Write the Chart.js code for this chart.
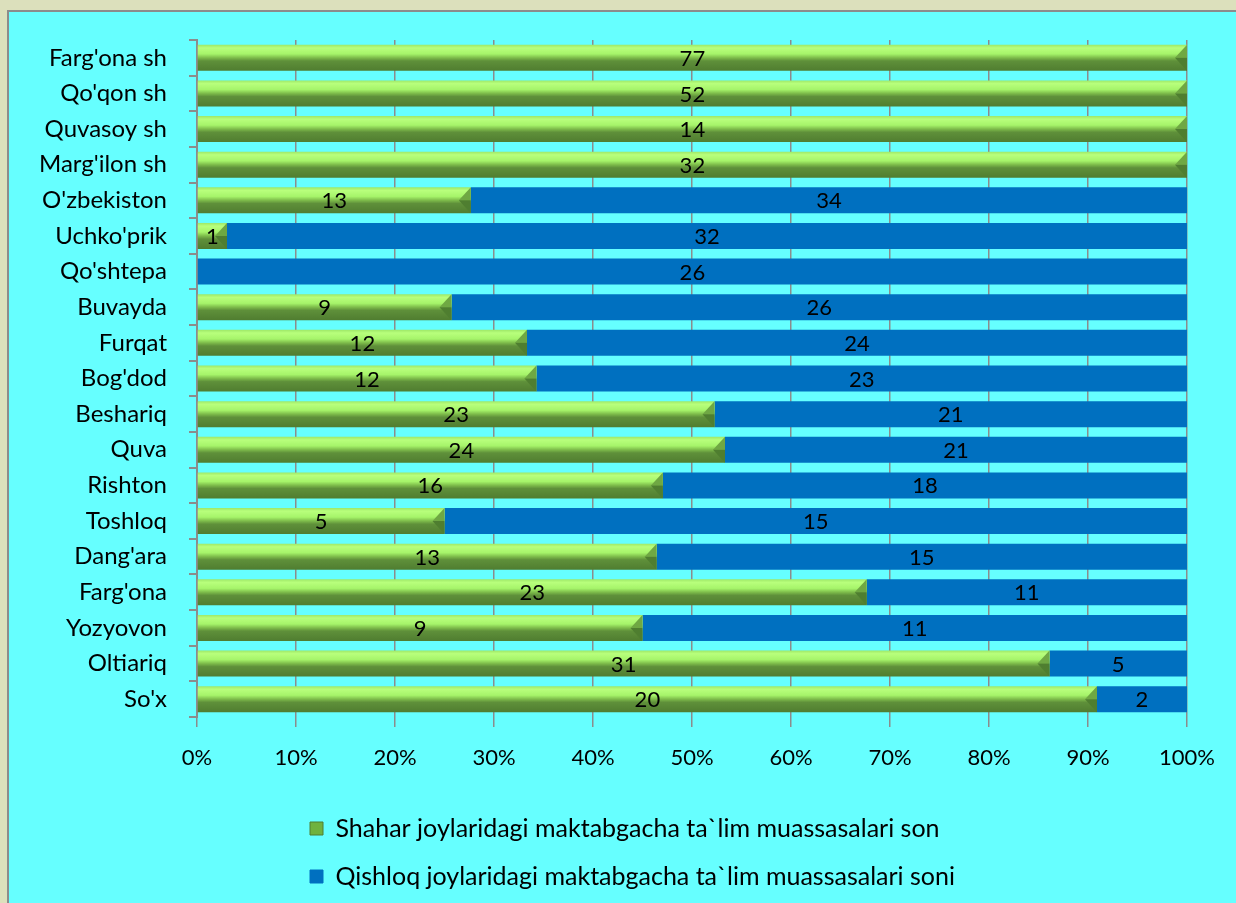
<!DOCTYPE html>
<html>
<head>
<meta charset="utf-8">
<script src="https://cdn.jsdelivr.net/npm/chart.js@4.4.1/dist/chart.umd.min.js"></script>
<style>
  html, body { margin: 0; padding: 0; background: #DCE0BC; overflow: hidden; width: 1236px; height: 903px; }
  #frame { position: absolute; left: 7px; top: 10px; width: 1240px; height: 910px; border: 2px solid #8C8C8C; background: #66FFFF; }
  canvas { display: block; }
</style>
</head>
<body>
<div id="frame"><canvas id="c" width="1227" height="900"></canvas></div>
<script>
const categories = ["Farg'ona sh","Qo'qon sh","Quvasoy sh","Marg'ilon sh","O'zbekiston","Uchko'prik","Qo'shtepa","Buvayda","Furqat","Bog'dod","Beshariq","Quva","Rishton","Toshloq","Dang'ara","Farg'ona","Yozyovon","Oltiariq","So'x"];
const shaharCounts = [77,52,14,32,13,1,0,9,12,12,23,24,16,5,13,23,9,31,20];
const qishloqCounts = [0,0,0,0,34,32,26,26,24,23,21,21,18,15,15,11,11,5,2];
const seriesNames = ["Shahar joylaridagi maktabgacha ta`lim muassasalari son","Qishloq joylaridagi maktabgacha ta`lim muassasalari soni"];
const xTickValues = [0,10,20,30,40,50,60,70,80,90,100];

const totals = categories.map((_, i) => shaharCounts[i] + qishloqCounts[i]);
const shaharPct = shaharCounts.map((v, i) => v / totals[i] * 100);
const qishloqPct = qishloqCounts.map((v, i) => v / totals[i] * 100);
const countsBySeries = [shaharCounts, qishloqCounts];

const FONT = "Lato, 'Open Sans', sans-serif";
const BAR_PCT = 0.73;

function greenFill(ctx) {
  const chart = ctx.chart;
  if (!chart.chartArea || ctx.type !== 'data') return '#8CD450';
  const y = chart.scales.y;
  const center = y.getPixelForValue(ctx.dataIndex);
  const h = (y.height / categories.length) * BAR_PCT;
  const g = chart.ctx.createLinearGradient(0, center - h / 2, 0, center + h / 2);
  g.addColorStop(0, '#9EE868');
  g.addColorStop(0.12, '#B8FF7C');
  g.addColorStop(0.35, '#A6F46A');
  g.addColorStop(0.5, '#7DBB4A');
  g.addColorStop(0.62, '#5F903A');
  g.addColorStop(1, '#507D30');
  return g;
}

const bevelPlugin = {
  id: 'bevel',
  afterDatasetDraw(chart, args) {
    if (args.index !== 0) return;
    const c = chart.ctx;
    args.meta.data.forEach((el, i) => {
      if (!shaharCounts[i]) return;
      const p = el.getProps(['x', 'y', 'base', 'height'], true);
      const top = p.y - p.height / 2, bot = p.y + p.height / 2;
      const w = Math.min(12, (p.x - p.base) / 2);
      c.save();
      c.fillStyle = '#6FA843';
      c.beginPath(); c.moveTo(p.x, top); c.lineTo(p.x - w, p.y); c.lineTo(p.x, p.y); c.closePath(); c.fill();
      c.fillStyle = '#4F7E30';
      c.beginPath(); c.moveTo(p.x, bot); c.lineTo(p.x - w, p.y); c.lineTo(p.x, p.y); c.closePath(); c.fill();
      c.restore();
    });
  }
};

const labelPlugin = {
  id: 'valueLabels',
  afterDatasetsDraw(chart) {
    const c = chart.ctx;
    c.save();
    c.font = '22px ' + FONT;
    c.fillStyle = '#000';
    c.textAlign = 'center';
    c.textBaseline = 'middle';
    chart.data.datasets.forEach((ds, di) => {
      const meta = chart.getDatasetMeta(di);
      meta.data.forEach((el, i) => {
        const v = countsBySeries[di][i];
        if (!v) return;
        const p = el.getProps(['x', 'y', 'base'], true);
        c.fillText(String(v), (p.x + p.base) / 2, p.y + 1);
      });
    });
    c.restore();
  }
};

// place the legend block so that both rows start at the same left edge
const legendPlace = {
  id: 'legendPlace',
  afterLayout(chart) {
    const lg = chart.legend;
    if (!lg) return;
    const w = lg.right - lg.left;
    lg.left = 278;
    lg.right = 278 + w;
  }
};

new Chart(document.getElementById('c'), {
  type: 'bar',
  data: {
    labels: categories,
    datasets: [
      { label: seriesNames[0], data: shaharPct, backgroundColor: greenFill, borderWidth: 0, barPercentage: BAR_PCT, categoryPercentage: 1 },
      { label: seriesNames[1], data: qishloqPct, backgroundColor: '#0070C0', borderWidth: 0, barPercentage: BAR_PCT, categoryPercentage: 1 }
    ]
  },
  options: {
    indexAxis: 'y',
    responsive: false,
    animation: false,
    layout: { padding: { top: 28, right: 49, left: 0, bottom: 13 } },
    scales: {
      x: {
        stacked: true, min: 0, max: 100,
        afterBuildTicks(scale) { scale.ticks = xTickValues.map(v => ({ value: v })); },
        afterFit(scale) { scale.height = 76; },
        ticks: { callback: v => v + '%', color: '#000', font: { family: FONT, size: 22 }, padding: 18, maxRotation: 0 },
        grid: { color: '#8C8C8C', lineWidth: 1.5, tickLength: 10 },
        border: { display: false }
      },
      y: {
        stacked: true,
        afterFit(scale) { scale.width = 188; scale.paddingTop = 0; scale.paddingBottom = 0; },
        ticks: { color: '#000', font: { family: FONT, size: 24 }, padding: 22, autoSkip: false },
        grid: { drawOnChartArea: false, drawTicks: true, tickLength: 8, color: '#8C8C8C', lineWidth: 2, offset: true },
        border: { display: true, color: '#8C8C8C', width: 2 }
      }
    },
    plugins: {
      tooltip: { enabled: false },
      legend: {
        position: 'bottom',
        align: 'start',
        maxWidth: 700,
        labels: {
          color: '#000',
          font: { family: FONT, size: 25 },
          boxWidth: 13, boxHeight: 13,
          padding: 23,
          generateLabels(chart) {
            return chart.data.datasets.map((ds, i) => ({
              text: ds.label,
              fillStyle: i === 0 ? '#6FB23E' : '#0070C0',
              strokeStyle: i === 0 ? '#4F7E30' : '#0070C0',
              lineWidth: 1,
              hidden: false,
              datasetIndex: i,
              fontColor: '#000'
            }));
          }
        }
      }
    }
  },
  plugins: [bevelPlugin, labelPlugin, legendPlace]
});
</script>
</body>
</html>
